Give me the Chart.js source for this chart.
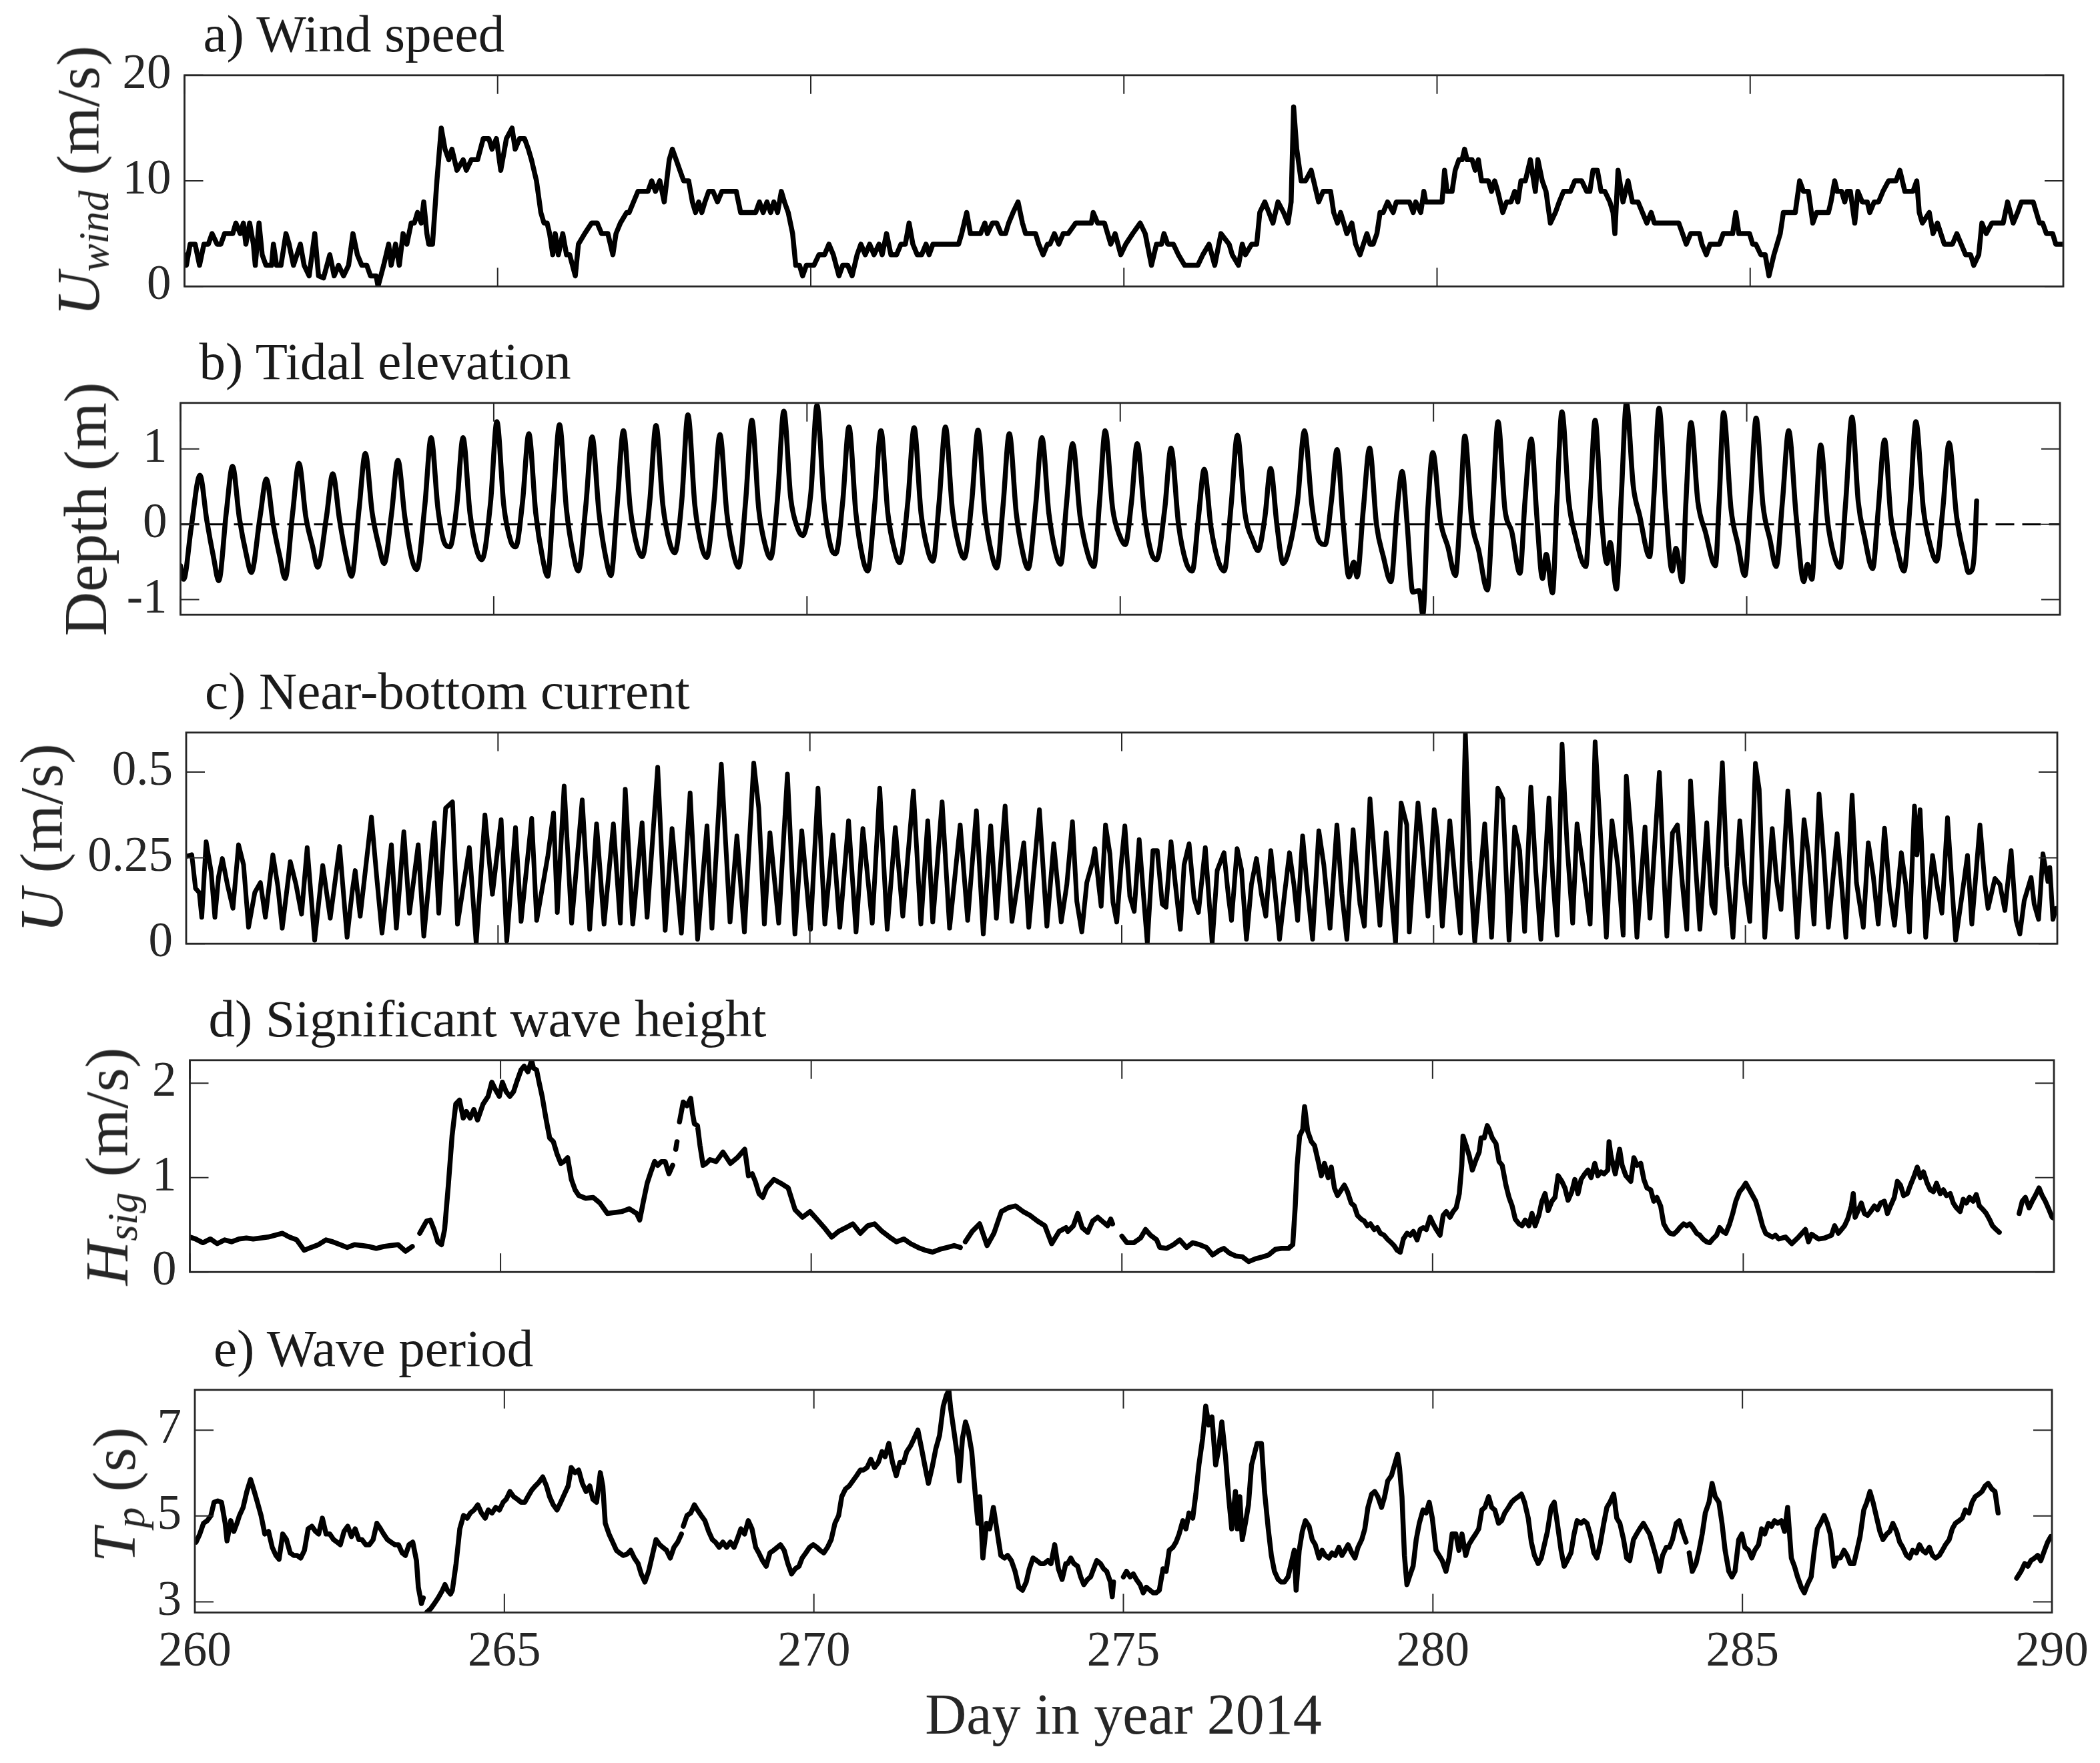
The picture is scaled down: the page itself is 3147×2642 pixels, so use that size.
<!DOCTYPE html>
<html><head><meta charset="utf-8">
<script src="https://cdn.jsdelivr.net/npm/chart.js@4.4.0/dist/chart.umd.min.js"></script>
<style>
html,body{margin:0;padding:0;background:#fff;}
#fig{position:relative;width:3147px;height:2642px;background:#fff;overflow:hidden;font-family:'Liberation Serif','Times New Roman',serif;}
#fig canvas{position:absolute;left:0;}
.ttl{position:absolute;font-size:79px;line-height:1;white-space:nowrap;color:#1a1a1a;}
.yl{position:absolute;font-size:92px;line-height:1;white-space:nowrap;color:#262626;transform:translate(-50%,-50%) rotate(-90deg);}
.sub{font-size:0.68em;position:relative;top:0.22em;}
.xl{position:absolute;font-size:86px;line-height:1;white-space:nowrap;color:#262626;transform:translateX(-50%);}
</style></head><body><div id="fig"></div>
<script>
// ---------------- DATA (day of year 2014, value) ----------------
const xTicks = [260, 265, 270, 275, 280, 285, 290];
const yTicksWind = [0, 10, 20];
const yTicksTide = [-1, 0, 1];
const yTicksCurrent = [0, 0.25, 0.5];
const yTicksHsig = [0, 1, 2];
const yTicksTp = [3, 5, 7];

const panelTitles = ['a) Wind speed', 'b) Tidal elevation', 'c) Near-bottom current', 'd) Significant wave height', 'e) Wave period'];
const xAxisTitle = 'Day in year 2014';

const windSpeed = [
[260.00,3],[260.03,2],[260.09,4],[260.17,4],[260.24,2],[260.31,4],[260.38,4],[260.44,5],[260.52,4],[260.58,4],[260.64,5],[260.77,5],[260.82,6],[260.89,5],[260.94,6],[260.98,4],[261.04,6],[261.10,4],[261.13,2],[261.19,6],[261.24,3],[261.30,2],[261.39,2],[261.42,4],[261.47,2],[261.54,2],[261.62,5],[261.67,4],[261.74,2],[261.85,4],[261.91,2],[261.99,1],[262.08,5],[262.14,1],[262.22,0.8],[262.32,3],[262.39,1],[262.46,2],[262.54,1],[262.62,2],[262.69,5],[262.76,3],[262.83,2],[262.91,2],[262.97,1],[263.06,1],[263.09,0],[263.18,2],[263.26,4],[263.30,2],[263.37,4],[263.43,2],[263.49,5],[263.55,4],[263.62,6],[263.67,6],[263.72,7],[263.78,6],[263.82,8],[263.87,5],[263.90,4],[263.96,4],[264.03,10],[264.10,15],[264.16,13],[264.22,12],[264.27,13],[264.35,11],[264.45,12],[264.50,11],[264.58,12],[264.68,12],[264.77,14],[264.86,14],[264.91,13],[264.98,14],[265.05,11],[265.14,14],[265.23,15],[265.28,13],[265.35,14],[265.43,14],[265.49,13],[265.54,12],[265.58,11],[265.62,10],[265.69,7],[265.74,6],[265.79,6],[265.83,5],[265.88,3],[265.92,5],[265.97,3],[266.04,5],[266.10,3],[266.15,3],[266.24,1],[266.29,4],[266.39,5],[266.50,6],[266.59,6],[266.66,5],[266.76,5],[266.84,3],[266.89,5],[266.96,6],[267.06,7],[267.10,7],[267.17,8],[267.24,9],[267.33,9],[267.40,9],[267.46,10],[267.52,9],[267.59,10],[267.66,8],[267.74,12],[267.79,13],[267.85,12],[267.91,11],[267.97,10],[268.05,10],[268.11,8],[268.16,7],[268.21,8],[268.26,7],[268.31,8],[268.37,9],[268.44,9],[268.51,8],[268.58,9],[268.66,9],[268.74,9],[268.81,9],[268.88,7],[269.01,7],[269.12,7],[269.18,8],[269.24,7],[269.30,8],[269.36,7],[269.41,8],[269.47,7],[269.53,9],[269.58,8],[269.64,7],[269.71,5],[269.76,2],[269.82,2],[269.87,1],[269.93,2],[270.05,2],[270.13,3],[270.22,3],[270.29,4],[270.36,3],[270.45,1],[270.51,2],[270.59,2],[270.66,1],[270.74,3],[270.80,4],[270.87,3],[270.94,4],[271.01,3],[271.09,4],[271.14,3],[271.21,5],[271.28,3],[271.37,3],[271.44,4],[271.51,4],[271.57,6],[271.63,4],[271.70,3],[271.77,3],[271.84,4],[271.89,3],[271.95,4],[272.02,4],[272.12,4],[272.24,4],[272.36,4],[272.41,5],[272.49,7],[272.55,5],[272.64,5],[272.71,5],[272.78,6],[272.82,5],[272.90,6],[272.97,6],[273.04,5],[273.11,5],[273.16,6],[273.23,7],[273.31,8],[273.38,6],[273.43,5],[273.51,5],[273.59,5],[273.64,4],[273.71,3],[273.78,4],[273.82,4],[273.89,5],[273.96,4],[274.03,5],
[274.11,5],[274.23,6],[274.48,6],[274.51,7],[274.58,6],[274.69,6],[274.79,4],[274.86,5],[274.95,3],[275.03,4],[275.14,5],[275.26,6],[275.34,5],[275.44,2],[275.52,4],[275.60,4],[275.64,5],[275.70,4],[275.79,4],[275.87,3],[275.97,2],[276.18,2],[276.26,3],[276.36,4],[276.45,2],[276.55,5],[276.68,4],[276.73,3],[276.83,2],[276.89,4],[276.94,3],[277.04,4],[277.12,4],[277.17,7],[277.25,8],[277.38,6],[277.46,8],[277.55,7],[277.62,6],[277.67,8],[277.71,17],[277.76,13],[277.83,10],[277.90,10],[277.99,11],[278.07,9],[278.11,8],[278.18,9],[278.30,9],[278.35,7],[278.41,6],[278.46,7],[278.51,6],[278.56,5],[278.64,6],[278.70,4],[278.77,3],[278.88,5],[278.93,4],[278.98,4],[279.04,5],[279.09,7],[279.14,7],[279.21,8],[279.30,7],[279.35,8],[279.56,8],[279.62,7],[279.66,8],[279.74,7],[279.79,9],[279.82,8],[279.98,8],[280.08,8],[280.12,11],[280.16,9],[280.24,9],[280.29,11],[280.35,12],[280.40,12],[280.44,13],[280.48,12],[280.56,12],[280.61,11],[280.66,12],[280.71,10],[280.76,10],[280.82,10],[280.87,9],[280.92,10],[280.97,9],[281.05,7],[281.11,8],[281.18,8],[281.24,9],[281.29,8],[281.34,10],[281.41,10],[281.49,12],[281.57,9],[281.61,12],[281.68,10],[281.74,9],[281.81,6],[281.89,7],[281.95,8],[282.02,9],[282.13,9],[282.20,10],[282.31,10],[282.39,9],[282.44,9],[282.49,11],[282.56,11],[282.62,9],[282.68,9],[282.76,8],[282.81,7],[282.84,5],[282.89,11],[282.97,8],[283.05,10],[283.12,8],[283.21,8],[283.28,7],[283.35,6],[283.42,7],[283.47,6],[283.54,6],[283.61,6],[283.67,6],[283.75,6],[283.86,6],[283.92,5],[283.98,4],[284.05,5],[284.12,5],[284.19,5],[284.23,4],[284.30,3],[284.36,4],[284.43,4],[284.51,4],[284.57,5],[284.64,5],[284.72,5],[284.77,7],[284.82,5],[284.91,5],[284.99,5],[285.04,4],[285.09,4],[285.17,3],[285.24,3],[285.30,1],[285.38,3],[285.43,4],[285.48,5],[285.53,7],[285.59,7],[285.64,7],[285.72,7],[285.79,10],[285.85,9],[285.93,9],[286.00,6],[286.06,7],[286.25,7],[286.29,8],[286.35,10],[286.39,9],[286.46,9],[286.51,8],[286.55,9],[286.60,9],[286.67,6],[286.72,9],[286.79,8],[286.87,8],[286.91,7],[286.98,8],[287.05,8],[287.12,9],[287.21,10],[287.29,10],[287.33,10],[287.39,11],[287.47,9],[287.52,9],[287.60,9],[287.66,10],[287.70,7],[287.75,6],[287.86,7],[287.92,5],[287.99,6],[288.10,4],[288.23,4],[288.30,5],[288.37,4],[288.44,3],[288.52,3],[288.57,2],[288.65,3],[288.70,6],[288.77,5],[288.86,6],[289.04,6],[289.11,8],[289.20,6],[289.27,7],[289.33,8],[289.52,8],[289.57,7],[289.62,6],[289.67,6],[289.73,5],[289.78,5],[289.83,5],[289.88,4],[289.96,4],[290.00,4]
];

const tideDepth = [
[260.00,-0.55],[260.05,-0.73],[260.17,-0.05],
[260.31,0.65],[260.42,0.05],[260.53,-0.45],[260.61,-0.75],[260.73,0.15],
[260.83,0.77],[260.94,0.08],[261.05,-0.40],[261.13,-0.64],[261.27,0.10],
[261.37,0.60],[261.48,0.00],[261.59,-0.45],[261.67,-0.72],[261.79,0.15],
[261.89,0.81],[262.00,0.10],[262.11,-0.30],[262.19,-0.57],[262.33,0.10],
[262.43,0.67],[262.54,0.05],[262.65,-0.45],[262.73,-0.69],[262.85,0.20],
[262.95,0.94],[263.06,0.15],[263.17,-0.30],[263.25,-0.52],[263.37,0.15],
[263.47,0.85],[263.58,0.10],[263.69,-0.45],[263.77,-0.60],[263.90,0.25],
[264.00,1.15],[264.11,0.20],[264.22,-0.26],[264.30,-0.30],[264.41,0.25],
[264.51,1.15],[264.62,0.15],[264.73,-0.35],[264.81,-0.47],[264.95,0.30],
[265.05,1.36],[265.16,0.25],[265.27,-0.22],[265.35,-0.30],[265.46,0.30],
[265.56,1.20],[265.67,0.15],[265.78,-0.45],[265.86,-0.69],[265.95,0.30],
[266.05,1.32],[266.16,0.20],[266.27,-0.40],[266.35,-0.62],[266.47,0.25],
[266.57,1.16],[266.68,0.15],[266.79,-0.45],[266.87,-0.68],[266.97,0.25],
[267.07,1.24],[267.18,0.20],[267.29,-0.30],[267.37,-0.43],[267.49,0.30],
[267.59,1.31],[267.70,0.25],[267.81,-0.25],[267.89,-0.38],[268.00,0.30],
[268.10,1.45],[268.21,0.25],[268.32,-0.30],[268.40,-0.44],[268.51,0.25],
[268.61,1.19],[268.72,0.15],[268.83,-0.40],[268.91,-0.57],[269.02,0.30],
[269.12,1.38],[269.23,0.20],[269.34,-0.30],[269.42,-0.45],[269.53,0.35],
[269.63,1.50],[269.74,0.35],[269.85,-0.05],[269.93,-0.15],[270.06,0.40],
[270.16,1.58],[270.27,0.30],[270.38,-0.30],[270.46,-0.39],[270.57,0.30],
[270.67,1.29],[270.78,0.15],[270.89,-0.45],[270.97,-0.62],[271.08,0.25],
[271.18,1.24],[271.29,0.15],[271.40,-0.35],[271.48,-0.51],[271.61,0.30],
[271.71,1.28],[271.82,0.15],[271.93,-0.35],[272.01,-0.49],[272.11,0.30],
[272.21,1.29],[272.32,0.20],[272.43,-0.30],[272.51,-0.45],[272.63,0.30],
[272.73,1.25],[272.84,0.15],[272.95,-0.40],[273.03,-0.58],[273.13,0.25],
[273.23,1.20],[273.34,0.15],[273.45,-0.40],[273.53,-0.59],[273.65,0.25],
[273.75,1.15],[273.86,0.15],[273.97,-0.38],[274.05,-0.53],[274.14,0.25],
[274.24,1.07],[274.36,0.10],[274.48,-0.39],[274.58,-0.56],[274.67,0.30],
[274.76,1.24],[274.88,0.20],[275.00,-0.17],[275.08,-0.27],[275.18,0.30],
[275.27,1.07],[275.39,0.10],[275.50,-0.39],[275.58,-0.47],[275.71,0.20],
[275.81,1.01],[275.93,0.00],[276.05,-0.50],[276.15,-0.62],[276.25,0.10],
[276.34,0.73],[276.45,-0.05],[276.57,-0.50],[276.66,-0.62],[276.77,0.25],
[276.87,1.18],[276.99,0.15],[277.12,-0.22],[277.20,-0.35],[277.31,0.10],
[277.40,0.74],[277.50,0.00],[277.60,-0.52],[277.71,-0.28],[277.83,0.30],
[277.94,1.24],[278.06,0.25],[278.17,-0.22],[278.27,-0.27],[278.37,0.30],
[278.46,0.99],[278.56,0.00],[278.65,-0.70],[278.73,-0.50],[278.78,-0.70],[278.88,0.20],
[278.98,1.01],[279.09,0.00],[279.20,-0.43],[279.32,-0.76],[279.42,0.20],
[279.50,0.70],[279.58,0.00],[279.67,-0.90],[279.77,-0.88],[279.83,-1.20],[279.91,0.20],
[279.99,0.95],[280.11,0.05],[280.23,-0.30],[280.35,-0.68],[280.43,0.20],
[280.50,1.17],[280.61,0.05],[280.72,-0.34],[280.86,-0.87],[280.95,0.30],
[281.03,1.36],[281.14,0.20],[281.25,-0.10],[281.38,-0.65],[281.46,0.30],
[281.56,1.13],[281.65,0.10],[281.74,-0.72],[281.80,-0.40],[281.90,-0.91],[281.97,0.30],
[282.05,1.49],[282.16,0.30],[282.26,-0.14],[282.43,-0.56],[282.50,0.30],
[282.58,1.38],[282.68,0.10],[282.77,-0.52],[282.82,-0.24],[282.92,-0.86],[283.00,0.40],
[283.08,1.61],[283.19,0.50],[283.29,0.12],[283.45,-0.43],[283.52,0.40],
[283.60,1.54],[283.71,0.20],[283.81,-0.62],[283.87,-0.32],[283.97,-0.76],[284.03,0.30],
[284.11,1.35],[284.22,0.30],[284.34,-0.10],[284.50,-0.55],[284.56,0.30],
[284.63,1.48],[284.75,0.20],[284.86,-0.27],[284.97,-0.68],[285.06,0.30],
[285.15,1.41],[285.26,0.25],[285.37,-0.20],[285.47,-0.56],[285.57,0.30],
[285.67,1.24],[285.79,0.10],[285.91,-0.76],[285.97,-0.53],[286.04,-0.73],[286.11,0.20],
[286.18,1.05],[286.29,0.05],[286.39,-0.40],[286.49,-0.57],[286.58,0.30],
[286.68,1.42],[286.78,0.30],[286.88,-0.17],[287.01,-0.59],[287.10,0.20],
[287.20,1.12],[287.30,0.10],[287.40,-0.32],[287.51,-0.62],[287.61,0.30],
[287.70,1.36],[287.82,0.20],[287.93,-0.28],[288.03,-0.49],[288.13,0.20],
[288.23,1.08],[288.35,0.10],[288.48,-0.45],[288.54,-0.64],[288.60,-0.60],[288.64,-0.30],[288.67,0.31]
];
const tideZeroLine = [[260,0],[290,0]];

const currentSpeed = [
[260.00,.254],[260.09,.259],[260.15,.161],[260.21,.149],[260.25,.077],[260.32,.297],[260.40,.210],[260.46,.077],[260.52,.196],[260.58,.248],[260.66,.173],[260.75,.103],[260.84,.288],[260.92,.230],[261.00,.048],[261.10,.149],[261.19,.178],[261.27,.077],[261.39,.259],[261.47,.167],[261.54,.045],[261.67,.239],[261.76,.173],[261.85,.086],[261.94,.280],[262.06,.010],[262.19,.228],[262.31,.074],[262.46,.283],[262.58,.019],[262.66,.149],[262.71,.213],[262.79,.080],[262.97,.369],[263.06,.184],[263.14,.031],[263.29,.288],[263.37,.045],[263.49,.326],[263.58,.089],[263.72,.288],[263.81,.022],[263.98,.352],[264.05,.089],[264.16,.395],[264.27,.413],[264.35,.057],[264.54,.280],[264.65,0],[264.79,.375],[264.91,.144],[265.05,.361],[265.14,.008],[265.28,.338],[265.37,.065],[265.54,.365],[265.62,.068],[265.80,.257],[265.89,.381],[265.95,.091],[266.06,.459],[266.18,.060],[266.35,.419],[266.47,.042],[266.58,.349],[266.70,.057],[266.85,.349],[266.96,.060],[267.04,.450],[267.16,.057],[267.31,.352],[267.39,.077],[267.56,.514],[267.68,.039],[267.79,.335],[267.94,.031],[268.08,.439],[268.20,.013],[268.35,.343],[268.43,.045],[268.58,.523],[268.72,.063],[268.83,.314],[268.95,.034],[269.10,.526],[269.18,.395],[269.27,.057],[269.36,.323],[269.50,.060],[269.64,.494],[269.76,.028],[269.87,.329],[270.01,.042],[270.13,.453],[270.24,.057],[270.37,.317],[270.48,.048],[270.62,.358],[270.74,.034],[270.85,.335],[271.00,.060],[271.12,.453],[271.24,.042],[271.37,.338],[271.49,.080],[271.66,.445],[271.78,.057],[271.89,.358],[271.97,.063],[272.12,.413],[272.24,.045],[272.41,.346],[272.53,.068],[272.67,.387],[272.78,.028],[272.90,.343],[272.99,.074],[273.13,.401],[273.24,.065],[273.43,.294],[273.51,.048],[273.68,.390],[273.80,.051],[273.91,.291],[274.03,.063],
[274.12,.173],[274.21,.355],[274.28,.123],[274.36,.034],[274.44,.178],[274.53,.236],[274.57,.277],[274.63,.173],[274.67,.109],[274.74,.346],[274.81,.262],[274.86,.120],[274.92,.063],[274.99,.230],[275.05,.343],[275.13,.138],[275.20,.094],[275.28,.303],[275.36,.115],[275.41,.002],[275.50,.271],[275.57,.271],[275.65,.115],[275.71,.106],[275.79,.297],[275.86,.173],[275.94,.042],[276.00,.230],[276.08,.291],[276.16,.132],[276.23,.091],[276.34,.280],[276.45,.002],[276.53,.213],[276.64,.265],[276.71,.138],[276.76,.068],[276.85,.277],[276.92,.216],[277.00,.013],[277.08,.173],[277.16,.248],[277.24,.144],[277.31,.080],[277.39,.271],[277.47,.129],[277.53,.013],[277.61,.144],[277.69,.265],[277.76,.173],[277.82,.068],[277.90,.314],[277.97,.173],[278.06,.013],[278.16,.329],[278.24,.230],[278.34,.045],[278.45,.346],[278.53,.144],[278.61,.013],[278.71,.332],[278.82,.115],[278.89,.051],[278.98,.422],[279.06,.230],[279.14,.054],[279.24,.323],[279.31,.167],[279.39,.002],[279.48,.410],[279.57,.346],[279.61,.034],[279.75,.410],[279.80,.323],[279.91,.080],[280.01,.390],[280.06,.317],[280.14,.051],[280.26,.358],[280.35,.173],[280.43,.031],[280.51,.612],[280.58,.242],[280.66,.005],[280.82,.349],[280.93,.019],[281.03,.453],[281.11,.422],[281.21,.010],[281.30,.340],[281.38,.271],[281.46,.036],[281.56,.456],[281.64,.207],[281.72,.013],[281.85,.424],[281.91,.196],[281.98,.025],[282.06,.581],[282.14,.288],[282.23,.060],[282.30,.349],[282.41,.202],[282.51,.057],[282.59,.588],[282.69,.277],[282.77,.019],[282.86,.358],[282.96,.219],[283.04,.025],[283.09,.488],[283.18,.288],[283.26,.019],[283.39,.340],[283.47,.074],[283.62,.499],[283.67,.288],[283.74,.022],[283.83,.323],[283.91,.346],[283.99,.173],[284.06,.042],[284.12,.474],[284.20,.230],[284.27,.042],[284.38,.352],[284.46,.115],[284.51,.089],[284.63,.527],[284.70,.225],[284.80,.019],[284.91,.358],[284.99,.173],[285.07,.065],[285.16,.525],[285.22,.450],[285.31,.019],[285.43,.335],[285.50,.184],[285.57,.100],[285.68,.445],[285.73,.317],[285.83,.019],[285.94,.361],[286.01,.259],[286.10,.057],[286.18,.436],[286.26,.248],[286.33,.048],[286.47,.320],[286.55,.155],[286.61,.019],[286.71,.433],[286.78,.178],[286.89,.048],[286.97,.294],[287.05,.196],[287.13,.057],[287.23,.336],[287.31,.155],[287.39,.054],[287.50,.265],[287.57,.173],[287.63,.034],[287.71,.401],[287.75,.259],[287.80,.390],[287.89,.019],[288.00,.257],[288.07,.173],[288.15,.089],[288.24,.367],[288.31,.173],[288.37,.010],[288.47,.138],[288.56,.257],[288.63,.057],[288.76,.346],[288.84,.173],[288.89,.103],[289.00,.190],[289.08,.173],[289.16,.097],[289.26,.271],[289.34,.068],[289.40,.028],[289.47,.126],[289.58,.193],[289.63,.115],[289.70,.071],[289.77,.262],[289.85,.181],[289.88,.222],[289.93,.071],[289.98,.103]
];

const waveHeight = [
[260.00,.37],[260.09,.35],[260.21,.31],[260.33,.35],[260.44,.30],[260.56,.34],[260.67,.32],[260.79,.35],[260.91,.36],[261.02,.35],[261.14,.36],[261.26,.37],[261.37,.39],[261.49,.41],[261.60,.37],[261.72,.34],[261.84,.23],[261.95,.26],[262.07,.29],[262.19,.34],[262.30,.32],[262.42,.29],[262.53,.26],[262.65,.29],[262.77,.28],[262.88,.27],[263.00,.25],[263.12,.27],[263.23,.28],[263.35,.29],[263.47,.22],[263.58,.27],
[263.64,null],
[263.70,.41],[263.81,.54],[263.87,.55],[263.93,.45],[263.99,.32],[264.05,.29],[264.10,.45],[264.16,.92],[264.22,1.44],[264.28,1.78],[264.34,1.82],[264.40,1.63],[264.45,1.70],[264.51,1.63],[264.57,1.72],[264.63,1.61],[264.72,1.78],[264.80,1.86],[264.86,2.01],[264.92,1.93],[264.98,1.86],[265.03,2.01],[265.09,1.91],[265.15,1.86],[265.21,1.91],[265.27,2.03],[265.33,2.14],[265.38,2.18],[265.44,2.12],[265.50,2.24],[265.53,2.16],[265.58,2.14],[265.62,2.01],[265.67,1.86],[265.73,1.63],[265.79,1.42],[265.85,1.38],[265.91,1.25],[265.97,1.15],[266.02,1.17],[266.08,1.21],[266.14,.98],[266.20,.87],[266.26,.81],[266.37,.78],[266.49,.79],[266.60,.73],[266.72,.62],[266.84,.63],[266.95,.64],[267.07,.67],[267.19,.62],[267.24,.55],[267.30,.75],[267.36,.94],[267.42,1.06],[267.48,1.17],[267.53,1.13],[267.59,1.17],[267.65,1.17],[267.71,1.04],[267.77,1.13],
[267.79,null],
[267.82,1.30],[267.84,1.38],
[267.86,null],
[267.88,1.59],[267.94,1.80],[268.00,1.76],[268.06,1.84],[268.09,1.68],[268.12,1.57],[268.17,1.55],[268.21,1.34],[268.26,1.13],[268.31,1.15],[268.37,1.19],[268.47,1.17],[268.58,1.27],[268.70,1.15],[268.81,1.21],[268.93,1.30],[268.99,1.02],[269.05,1.04],[269.10,.96],[269.16,.83],[269.22,.79],[269.28,.89],[269.40,.98],[269.51,.94],[269.63,.89],[269.74,.66],[269.86,.58],[269.98,.64],[270.09,.56],[270.21,.47],[270.33,.37],[270.44,.43],[270.56,.47],[270.67,.51],[270.79,.41],[270.91,.49],[271.02,.51],[271.14,.43],[271.26,.37],[271.37,.32],[271.49,.35],[271.60,.30],[271.72,.26],[271.84,.23],[271.95,.21],[272.07,.24],[272.19,.26],[272.30,.28],[272.40,.26],
[272.44,null],
[272.48,.32],[272.59,.43],[272.71,.51],[272.83,.28],[272.94,.41],[273.06,.64],[273.17,.68],[273.29,.70],[273.41,.64],[273.52,.60],[273.64,.54],[273.76,.49],[273.87,.30],[273.99,.43],[274.10,.47],[274.13,.43],[274.22,.49],[274.29,.62],[274.36,.47],[274.45,.42],[274.53,.54],[274.61,.58],[274.68,.54],[274.77,.49],[274.82,.56],[274.85,.51],
[274.92,null],
[275.00,.38],[275.08,.31],[275.19,.31],[275.30,.36],[275.38,.45],[275.46,.39],[275.56,.34],[275.61,.26],[275.72,.25],[275.83,.29],[275.93,.34],[276.04,.26],[276.14,.31],[276.25,.29],[276.36,.26],[276.46,.18],[276.57,.23],[276.64,.25],[276.73,.20],[276.83,.17],[276.94,.16],[277.04,.11],[277.15,.14],[277.26,.16],[277.36,.18],[277.47,.24],[277.57,.25],[277.68,.25],[277.75,.29],[277.79,.70],[277.82,1.13],[277.86,1.44],[277.91,1.51],[277.94,1.75],[277.99,1.49],[278.05,1.38],[278.10,1.34],[278.16,1.17],[278.21,1.02],[278.26,1.15],[278.32,1.00],[278.37,1.11],[278.42,.89],[278.47,.81],[278.53,.87],[278.58,.92],[278.63,.85],[278.69,.73],[278.74,.70],[278.79,.60],[278.85,.56],[278.90,.54],[278.95,.49],[279.00,.51],[279.06,.45],[279.11,.47],[279.16,.41],[279.22,.39],[279.27,.35],[279.32,.32],[279.38,.28],[279.43,.23],[279.48,.21],[279.53,.35],[279.59,.41],[279.64,.39],[279.69,.43],[279.75,.34],[279.80,.45],[279.85,.47],[279.90,.45],[279.96,.58],[280.01,.51],[280.06,.45],[280.12,.39],[280.17,.60],[280.22,.64],[280.28,.58],[280.33,.64],[280.38,.68],[280.43,.83],[280.47,1.13],[280.49,1.44],[280.54,1.34],[280.59,1.23],[280.64,1.08],[280.70,1.19],[280.75,1.27],[280.78,1.42],[280.83,1.42],[280.88,1.55],[280.91,1.51],[280.96,1.42],[281.02,1.36],[281.07,1.17],[281.12,1.13],[281.18,.92],[281.23,.79],[281.28,.70],[281.33,.56],[281.39,.51],[281.44,.49],[281.49,.55],[281.55,.49],[281.60,.62],[281.65,.49],[281.71,.60],[281.76,.75],[281.81,.83],[281.86,.65],[281.92,.75],[281.97,.79],[282.02,1.02],[282.08,.96],[282.13,.89],[282.18,.76],[282.24,.85],[282.29,.98],[282.34,.83],[282.39,.98],[282.45,1.04],[282.50,1.08],[282.55,1.00],[282.61,1.15],[282.66,1.02],[282.71,1.06],[282.76,1.04],[282.82,1.08],[282.84,1.38],[282.87,1.23],[282.94,1.04],[283.01,1.30],[283.05,1.13],[283.11,1.02],[283.19,.96],[283.24,1.21],[283.29,1.13],[283.35,1.15],[283.40,.98],[283.45,.89],[283.51,.87],[283.56,.75],[283.61,.79],[283.67,.70],[283.72,.51],[283.77,.45],[283.82,.41],[283.88,.40],[283.93,.43],[283.98,.47],[284.04,.51],[284.09,.49],[284.14,.51],[284.19,.47],[284.25,.41],[284.30,.39],[284.35,.35],[284.41,.32],[284.46,.31],[284.51,.35],[284.57,.39],[284.62,.47],[284.67,.43],[284.72,.41],[284.78,.51],[284.83,.62],[284.88,.75],[284.94,.85],[284.99,.89],[285.04,.94],[285.10,.87],[285.15,.81],[285.20,.75],[285.25,.64],[285.31,.49],[285.36,.41],[285.41,.39],[285.47,.37],[285.52,.39],[285.57,.35],[285.68,.37],[285.78,.30],[285.89,.37],[286.00,.45],[286.05,.32],[286.10,.40],[286.21,.35],[286.31,.36],[286.42,.39],[286.47,.49],[286.53,.41],[286.58,.45],[286.63,.49],[286.68,.56],[286.74,.70],[286.77,.83],[286.80,.58],[286.84,.64],[286.90,.73],[286.95,.62],[287.00,.60],[287.05,.64],[287.11,.70],[287.16,.66],[287.21,.73],[287.27,.75],[287.32,.62],[287.37,.70],[287.43,.79],[287.48,.96],[287.53,.92],[287.58,.81],[287.64,.83],[287.69,.92],[287.74,1.00],[287.80,1.11],[287.85,1.00],[287.90,1.06],[287.96,.94],[288.01,.87],[288.06,.85],[288.11,.94],[288.17,.83],[288.22,.87],[288.27,.81],[288.33,.83],[288.38,.73],[288.43,.68],[288.49,.64],[288.54,.77],[288.59,.73],[288.64,.79],[288.70,.75],[288.75,.82],[288.80,.70],[288.86,.66],[288.91,.62],[288.96,.56],[289.01,.49],[289.07,.45],[289.12,.42],
[289.30,null],
[289.44,.62],[289.49,.75],[289.54,.79],[289.60,.68],[289.65,.75],[289.70,.81],[289.76,.89],[289.81,.81],[289.86,.75],[289.92,.66],[289.97,.58],[290.00,.57]
];

const wavePeriod = [
[260.02,4.39],[260.08,4.58],[260.14,4.83],[260.20,4.89],[260.26,5.01],[260.31,5.32],[260.37,5.35],[260.43,5.32],[260.49,4.83],[260.52,4.42],[260.58,4.89],[260.63,4.64],[260.68,4.83],[260.72,5.01],[260.78,5.20],[260.84,5.57],[260.90,5.85],[260.96,5.57],[261.01,5.32],[261.07,5.01],[261.13,4.58],[261.19,4.64],[261.25,4.27],[261.31,4.08],[261.36,3.99],[261.42,4.58],[261.48,4.45],[261.54,4.14],[261.60,4.08],[261.65,4.08],[261.71,4.02],[261.77,4.20],[261.83,4.70],[261.89,4.76],[261.95,4.64],[262.00,4.58],[262.06,4.95],[262.12,4.58],[262.18,4.58],[262.24,4.45],[262.30,4.39],[262.35,4.33],[262.41,4.64],[262.47,4.76],[262.53,4.52],[262.59,4.70],[262.65,4.45],[262.70,4.45],[262.76,4.33],[262.82,4.33],[262.88,4.45],[262.94,4.83],[263.00,4.70],[263.05,4.58],[263.11,4.45],[263.17,4.39],[263.23,4.33],[263.29,4.33],[263.35,4.14],[263.40,4.08],[263.46,4.33],[263.52,4.39],[263.58,3.96],[263.61,3.34],[263.66,2.96],[263.69,3.09],
[263.72,null],
[263.75,2.76],[263.81,2.84],[263.87,2.96],[263.93,3.09],[263.99,3.24],[264.04,3.40],[264.08,3.27],[264.13,3.18],[264.16,3.27],[264.22,3.89],[264.28,4.70],[264.34,5.01],[264.40,4.95],[264.45,5.07],[264.51,5.14],[264.57,5.26],[264.63,5.07],[264.69,4.95],[264.74,5.14],[264.80,5.07],[264.86,5.20],[264.92,5.14],[264.98,5.32],[265.03,5.39],[265.09,5.57],[265.15,5.45],[265.21,5.39],[265.27,5.32],[265.33,5.32],[265.38,5.45],[265.44,5.60],[265.50,5.70],[265.56,5.79],[265.62,5.91],[265.68,5.70],[265.73,5.45],[265.79,5.26],[265.85,5.14],[265.91,5.32],[265.97,5.51],[266.03,5.70],[266.08,6.13],[266.14,6.01],[266.20,6.07],[266.26,5.76],[266.32,5.57],[266.38,5.70],[266.43,5.39],[266.49,5.32],[266.55,6.01],[266.59,5.70],[266.63,4.83],[266.69,4.58],[266.75,4.39],[266.81,4.20],[266.86,4.14],[266.92,4.08],[266.98,4.11],[267.04,4.20],[267.10,4.02],[267.16,3.89],[267.21,3.65],[267.27,3.46],[267.33,3.71],[267.39,4.08],[267.45,4.45],[267.51,4.33],[267.56,4.27],[267.62,4.20],[267.68,4.02],[267.74,4.27],[267.80,4.39],[267.86,4.58],
[267.875,null],
[267.89,4.76],[267.95,5.01],[268.01,5.07],[268.07,5.26],[268.12,5.14],[268.18,5.01],[268.24,4.89],[268.30,4.64],[268.36,4.45],[268.41,4.39],[268.47,4.27],[268.53,4.39],[268.59,4.27],[268.65,4.39],[268.71,4.27],[268.76,4.45],[268.82,4.70],[268.88,4.58],[268.94,4.89],[269.00,4.70],[269.06,4.27],[269.11,4.14],[269.17,3.96],[269.23,3.83],[269.29,4.14],[269.35,4.20],[269.41,4.27],[269.46,4.33],[269.52,4.20],[269.58,3.89],[269.64,3.65],[269.70,3.77],[269.76,3.83],[269.81,4.02],[269.87,4.14],[269.93,4.27],[269.99,4.33],[270.05,4.27],[270.10,4.20],[270.16,4.14],[270.22,4.27],[270.28,4.45],[270.34,4.83],[270.40,5.01],[270.45,5.45],[270.51,5.63],[270.57,5.70],[270.63,5.82],[270.69,5.94],[270.75,6.07],[270.80,6.07],[270.86,6.13],[270.92,6.32],[270.98,6.13],[271.04,6.25],[271.10,6.50],[271.15,6.38],[271.21,6.69],[271.27,6.25],[271.33,5.94],[271.39,6.25],[271.45,6.25],[271.50,6.50],[271.56,6.63],[271.62,6.81],[271.68,7.00],[271.74,6.57],[271.79,6.19],[271.85,5.76],[271.91,6.13],[271.97,6.57],[272.03,6.88],[272.09,7.56],[272.14,7.81],[272.18,7.93],[272.21,7.50],[272.26,7.00],[272.32,6.38],[272.35,5.82],[272.40,6.81],[272.45,7.19],[272.49,7.00],[272.55,6.50],[272.61,5.45],[272.65,4.83],[272.68,5.45],[272.73,4.02],[272.79,4.83],[272.84,4.70],[272.90,5.20],[272.96,4.64],[273.02,4.08],[273.08,4.02],[273.13,4.08],[273.19,3.96],[273.25,3.71],[273.31,3.34],[273.37,3.27],[273.43,3.46],[273.48,3.77],[273.54,4.02],[273.60,3.96],[273.66,3.89],[273.72,3.89],[273.78,3.96],[273.83,3.89],[273.89,4.33],[273.95,3.77],[274.01,3.52],[274.07,3.89],[274.10,3.89],[274.15,4.02],[274.20,3.89],[274.26,3.83],[274.31,3.58],[274.36,3.40],[274.42,3.52],[274.47,3.58],[274.52,3.77],[274.57,3.96],[274.63,3.89],[274.68,3.77],[274.73,3.71],[274.79,3.46],[274.82,3.12],[274.84,3.46],
[274.92,null],
[275.00,3.58],[275.05,3.71],[275.11,3.58],[275.16,3.65],[275.21,3.52],[275.27,3.40],[275.32,3.21],[275.37,3.34],[275.43,3.27],[275.48,3.21],[275.53,3.21],[275.58,3.27],[275.64,3.77],[275.69,3.71],[275.74,4.20],[275.80,4.27],[275.85,4.39],[275.90,4.58],[275.96,4.89],[276.01,4.70],[276.06,5.07],[276.12,4.95],[276.17,5.51],[276.22,6.19],[276.28,6.81],[276.33,7.56],[276.38,7.12],[276.43,7.31],[276.49,6.19],[276.54,6.57],[276.59,7.19],[276.65,6.38],[276.70,5.45],[276.75,4.70],[276.81,5.57],[276.84,4.70],[276.88,5.45],[276.92,4.45],[276.97,4.83],[277.02,5.26],[277.07,6.19],[277.16,6.69],[277.23,6.69],[277.28,5.57],[277.34,4.70],[277.39,4.08],[277.44,3.71],[277.50,3.52],[277.55,3.46],[277.60,3.46],[277.66,3.58],[277.71,3.89],[277.76,4.20],[277.79,3.27],[277.84,4.20],[277.89,4.64],[277.94,4.89],[278.00,4.76],[278.05,4.45],[278.10,4.33],[278.16,4.02],[278.21,4.20],[278.26,4.08],[278.32,4.02],[278.37,4.14],[278.42,4.08],[278.48,4.27],[278.53,4.08],[278.58,4.20],[278.63,4.33],[278.69,4.14],[278.74,4.02],[278.79,4.27],[278.85,4.45],[278.90,4.70],[278.95,5.20],[279.01,5.51],[279.06,5.57],[279.11,5.45],[279.17,5.20],[279.22,5.45],[279.27,5.82],[279.33,5.94],[279.38,6.19],[279.43,6.44],[279.46,6.13],[279.50,5.45],[279.54,4.08],[279.58,3.40],[279.62,3.58],[279.68,3.83],[279.73,4.45],[279.78,4.83],[279.84,5.14],[279.89,5.07],[279.94,5.32],[279.99,4.95],[280.05,4.20],[280.10,4.08],[280.15,3.96],[280.21,3.71],[280.26,4.02],[280.31,4.58],[280.37,4.58],[280.42,4.20],[280.47,4.58],[280.53,4.08],[280.58,4.33],[280.63,4.45],[280.69,4.58],[280.74,4.70],[280.79,5.14],[280.84,5.20],[280.90,5.45],[280.95,5.20],[281.00,5.14],[281.06,4.83],[281.11,4.89],[281.16,5.07],[281.22,5.20],[281.27,5.32],[281.32,5.39],[281.38,5.45],[281.43,5.51],[281.48,5.32],[281.54,4.95],[281.59,4.39],[281.64,4.08],[281.70,3.89],[281.75,4.02],[281.80,4.33],[281.85,4.64],[281.91,5.20],[281.96,5.32],[282.01,4.83],[282.07,4.20],[282.12,3.83],[282.17,3.96],[282.23,4.14],[282.28,4.58],[282.33,4.89],[282.39,4.83],[282.44,4.89],[282.49,4.83],[282.55,4.52],[282.60,4.14],[282.65,4.02],[282.70,4.33],[282.76,4.83],[282.81,5.20],[282.86,5.32],[282.92,5.51],[282.97,4.95],[283.02,4.83],[283.08,4.45],[283.13,4.02],[283.18,3.96],[283.24,4.45],[283.29,4.58],[283.34,4.70],[283.40,4.83],[283.45,4.70],[283.50,4.58],[283.55,4.33],[283.61,4.02],[283.66,3.71],[283.71,4.08],[283.77,4.27],[283.82,4.27],[283.87,4.45],[283.93,4.83],[283.98,4.89],[284.03,4.64],[284.09,4.39],
[284.115,null],
[284.14,4.14],[284.19,3.71],[284.25,3.89],[284.30,4.20],[284.35,4.58],[284.40,5.07],[284.46,5.32],[284.51,5.76],[284.56,5.45],[284.62,5.32],[284.67,4.83],[284.72,4.20],[284.78,3.71],[284.83,3.58],[284.88,3.71],[284.94,4.45],[284.99,4.58],[285.04,4.27],[285.10,4.20],[285.15,4.02],[285.20,4.20],[285.26,4.33],[285.31,4.70],[285.36,4.58],[285.42,4.83],[285.47,4.76],[285.52,4.89],[285.57,4.83],[285.63,4.89],[285.68,4.64],[285.73,5.20],[285.79,4.02],[285.84,3.83],[285.89,3.58],[285.95,3.34],[286.00,3.21],[286.05,3.40],[286.11,3.58],[286.16,4.20],[286.21,4.70],[286.26,4.83],[286.32,5.01],[286.37,4.83],[286.42,4.58],[286.48,3.83],[286.53,4.02],[286.58,4.02],[286.64,4.20],[286.69,4.08],[286.74,3.89],[286.80,3.89],[286.85,4.20],[286.90,4.52],[286.96,5.14],[287.01,5.32],[287.06,5.57],[287.11,5.32],[287.17,4.95],[287.22,4.64],[287.27,4.45],[287.33,4.58],[287.38,4.64],[287.43,4.83],[287.49,4.64],[287.54,4.39],[287.59,4.27],[287.65,4.08],[287.70,4.02],[287.75,4.20],[287.81,4.14],[287.86,4.33],[287.91,4.20],[287.96,4.14],[288.02,4.27],[288.07,4.08],[288.12,4.02],[288.18,4.08],[288.23,4.20],[288.28,4.33],[288.34,4.45],[288.39,4.70],[288.44,4.83],[288.50,4.89],[288.55,4.95],[288.60,5.14],[288.66,5.07],[288.71,5.32],[288.76,5.45],[288.82,5.51],[288.87,5.57],[288.92,5.70],[288.97,5.76],[289.03,5.63],[289.08,5.57],[289.13,5.07],
[289.30,null],
[289.43,3.55],[289.50,3.71],[289.56,3.89],[289.61,3.83],[289.66,3.96],[289.72,4.02],[289.77,4.08],[289.82,3.96],[289.88,4.20],[289.93,4.39],[289.98,4.52]
];

// ---------------- RENDERING ----------------
const fig = document.getElementById('fig');
const AX = '#262626';
const FONT = "'Liberation Serif','Times New Roman',serif";

const framePlugin = {
  id: 'frame',
  afterDatasetsDraw(chart, args, opts) {
    const {ctx, chartArea: a} = chart;
    const x = chart.scales.x, y = chart.scales.y;
    const tl = 28;
    ctx.save();
    ctx.strokeStyle = AX;
    ctx.lineWidth = 2;
    ctx.beginPath();
    opts.xt.forEach(v => {
      const px = x.getPixelForValue(v);
      ctx.moveTo(px, a.top); ctx.lineTo(px, a.top + tl);
      ctx.moveTo(px, a.bottom); ctx.lineTo(px, a.bottom - tl);
    });
    opts.yt.forEach(v => {
      const py = y.getPixelForValue(v);
      ctx.moveTo(a.left, py); ctx.lineTo(a.left + tl, py);
      ctx.moveTo(a.right, py); ctx.lineTo(a.right - tl, py);
    });
    ctx.stroke();
    ctx.lineWidth = 2.8;
    ctx.strokeRect(a.left, a.top, a.right - a.left, a.bottom - a.top);
    ctx.restore();
  }
};

const toXY = arr => arr.map(p => ({x: p[0], y: p[1]}));

const panels = [
  {series: windSpeed, left: 276.5, right: 3092, top: 94.3, bottom: 447.7, ymin: 0, ymax: 20, yt: yTicksWind, lw: 7.5, mono: false,
   ylabel: '<i>U</i><span class="sub"><i>wind</i></span>&nbsp;(m/s)', lx: 117},
  {series: tideDepth, left: 270.5, right: 3087, top: 585, bottom: 940, ymin: -1.2, ymax: 1.61, yt: yTicksTide, lw: 7.5, mono: true, ref: tideZeroLine,
   ylabel: 'Depth&nbsp;(m)', lx: 128},
  {series: currentSpeed, left: 279, right: 3083, top: 1079, bottom: 1432.7, ymin: 0, ymax: 0.615, yt: yTicksCurrent, lw: 7, mono: false,
   ylabel: '<i>U</i>&nbsp;(m/s)', lx: 62},
  {series: waveHeight, left: 284.5, right: 3078, top: 1570.3, bottom: 1924.7, ymin: 0, ymax: 2.243, yt: yTicksHsig, lw: 7.5, mono: false,
   ylabel: '<i>H</i><span class="sub"><i>sig</i></span>&nbsp;(m/s)', lx: 160},
  {series: wavePeriod, left: 292, right: 3075, top: 2064, bottom: 2416.5, ymin: 2.75, ymax: 7.94, yt: yTicksTp, lw: 7.5, mono: false, xlabels: true,
   ylabel: '<i>T</i><span class="sub"><i>p</i></span>&nbsp;(s)', lx: 171}
];

panels.forEach((p, i) => {
  const padTop = 45;
  const cTop = Math.floor(p.top) - padTop;
  const xh = p.xlabels ? 110 : 0;
  const padBottom = p.xlabels ? 10 : 45;
  const cH = Math.ceil(p.bottom + xh + padBottom - cTop);
  const realPadBottom = cH - (p.bottom - cTop) - xh;
  const cv = document.createElement('canvas');
  cv.width = 3147; cv.height = cH;
  cv.style.top = cTop + 'px';
  cv.style.width = '3147px'; cv.style.height = cH + 'px';
  fig.appendChild(cv);

  const datasets = [{
    data: toXY(p.series), borderColor: '#000', borderWidth: p.lw, pointRadius: 0,
    borderJoinStyle: 'round', borderCapStyle: 'round', spanGaps: false,
    tension: 0, cubicInterpolationMode: p.mono ? 'monotone' : 'default'
  }];
  if (p.ref) {
    datasets.push({data: toXY(p.ref), borderColor: '#000', borderWidth: 3, borderDash: [28, 12], pointRadius: 0});
  }

  new Chart(cv, {
    type: 'line',
    data: {datasets},
    options: {
      responsive: false, animation: false, devicePixelRatio: 1,
      layout: {padding: {left: 0, right: 3147 - p.right, top: p.top - cTop, bottom: realPadBottom}},
      plugins: {legend: {display: false}, tooltip: {enabled: false}, title: {display: false},
        frame: {xt: xTicks, yt: p.yt}},
      scales: {
        x: {
          type: 'linear', min: 260, max: 290, display: !!p.xlabels,
          grid: {display: false, drawTicks: false}, border: {display: false},
          ticks: {stepSize: 5, autoSkip: false, maxRotation: 0, padding: 17, color: AX,
            font: {family: FONT, size: 73}, callback: v => String(v)},
          afterBuildTicks: s => { s.ticks = xTicks.map(v => ({value: v})); },
          afterFit: s => { s.height = xh; }
        },
        y: {
          type: 'linear', min: p.ymin, max: p.ymax,
          grid: {display: false, drawTicks: false}, border: {display: false},
          ticks: {autoSkip: false, padding: 20, color: AX, font: {family: FONT, size: 73}, callback: v => String(v)},
          afterBuildTicks: s => { s.ticks = p.yt.map(v => ({value: v})); },
          afterFit: s => { s.width = p.left; }
        }
      }
    },
    plugins: [framePlugin]
  });

  const t = document.createElement('div');
  t.className = 'ttl';
  t.textContent = panelTitles[i];
  t.style.left = (p.left + 28) + 'px';
  t.style.top = (p.top - 17 - 66.2) + 'px';
  fig.appendChild(t);

  const yl = document.createElement('div');
  yl.className = 'yl';
  yl.innerHTML = p.ylabel;
  yl.style.left = p.lx + 'px';
  yl.style.top = ((p.top + p.bottom) / 2) + 'px';
  fig.appendChild(yl);
});

const xl = document.createElement('div');
xl.className = 'xl';
xl.textContent = xAxisTitle;
xl.style.left = ((292 + 3075) / 2) + 'px';
xl.style.top = (2598 - 72) + 'px';
fig.appendChild(xl);
</script>
</body></html>
